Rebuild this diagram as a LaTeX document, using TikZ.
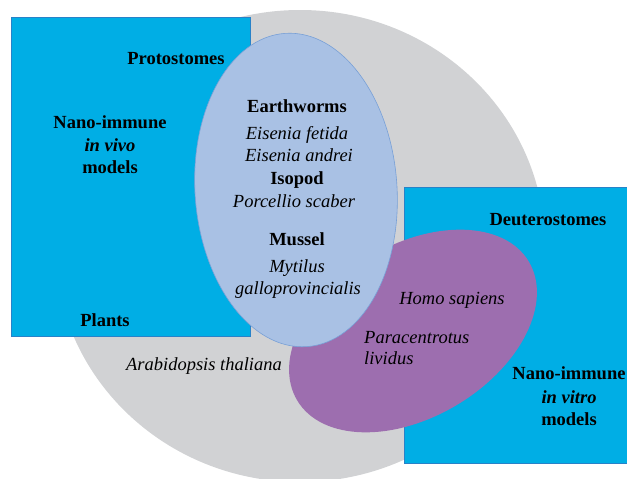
\documentclass[tikz,border=0pt]{standalone}
\usepackage{fontspec}
\setmainfont{Liberation Serif}
\definecolor{boxcyan}{RGB}{0,174,229}
\definecolor{boxedge}{RGB}{40,130,200}
\definecolor{greycirc}{RGB}{209,210,212}
\definecolor{lightblue}{RGB}{169,193,228}
\definecolor{lbedge}{RGB}{120,160,215}
\definecolor{purp}{RGB}{157,110,175}
\tikzset{
  lbl/.style={anchor=base, inner sep=0pt, font=\fontsize{18.5}{22}\selectfont, text=black},
  bl/.style={lbl, font=\fontsize{18.5}{22}\selectfont\bfseries},
  it/.style={lbl, font=\fontsize{18.5}{22}\selectfont\itshape},
  bit/.style={lbl, font=\fontsize{18.5}{22}\selectfont\bfseries\itshape},
}
\begin{document}
\begin{tikzpicture}[x=1pt,y=-1pt]
\useasboundingbox (0,0) rectangle (627,479);
\clip (0,0) rectangle (627,479);
% grey background disc
\fill[greycirc] (300,246) ellipse [x radius=245, y radius=236];
% left box
\filldraw[fill=boxcyan, draw=boxedge, line width=0.8pt] (11,17) rectangle (250,336);
% right box
\filldraw[fill=boxcyan, draw=boxedge, line width=0.8pt] (404,187) rectangle (640,463);
% purple ellipse
\fill[purp, rotate around={31:(413,331)}] (413,331) ellipse [x radius=135, y radius=86];
% light blue ellipse
\filldraw[fill=lightblue, draw=lbedge, line width=0.6pt, rotate around={4:(296,190)}] (296,190) ellipse [x radius=101, y radius=157];
% left box texts
\node[bl] (proto) at (176,64) {Protostomes};
\node[bl] (nano1) at (110,128) {Nano-immune};
\node[bit] (vivo) at (110,151) {in vivo};
\node[bl] (mod1) at (110,173) {models};
\node[bl] (plants) at (105,326) {Plants};
\node[it] (arab) at (204,370) {Arabidopsis thaliana};
% blue ellipse texts
\node[bl] (earth) at (297,112) {Earthworms};
\node[it] (efet) at (297,139) {Eisenia fetida};
\node[it] (eand) at (299,161) {Eisenia andrei};
\node[bl] (iso) at (297,184) {Isopod};
\node[it] (porc) at (294,207) {Porcellio scaber};
\node[bl] (muss) at (297,245) {Mussel};
\node[it] (myt) at (297,272) {Mytilus};
\node[it] (gallo) at (298,294) {galloprovincialis};
% right side texts
\node[bl] (deut) at (548,225) {Deuterostomes};
\node[it] (homo) at (452,304) {Homo sapiens};
\node[it, anchor=base west] (para) at (364,343) {Paracentrotus};
\node[it, anchor=base west] (livi) at (364,364) {lividus};
\node[bl] (nano2) at (569,379) {Nano-immune};
\node[bit] (vitro) at (569,403) {in vitro};
\node[bl] (mod2) at (569,425) {models};
\end{tikzpicture}
\end{document}
